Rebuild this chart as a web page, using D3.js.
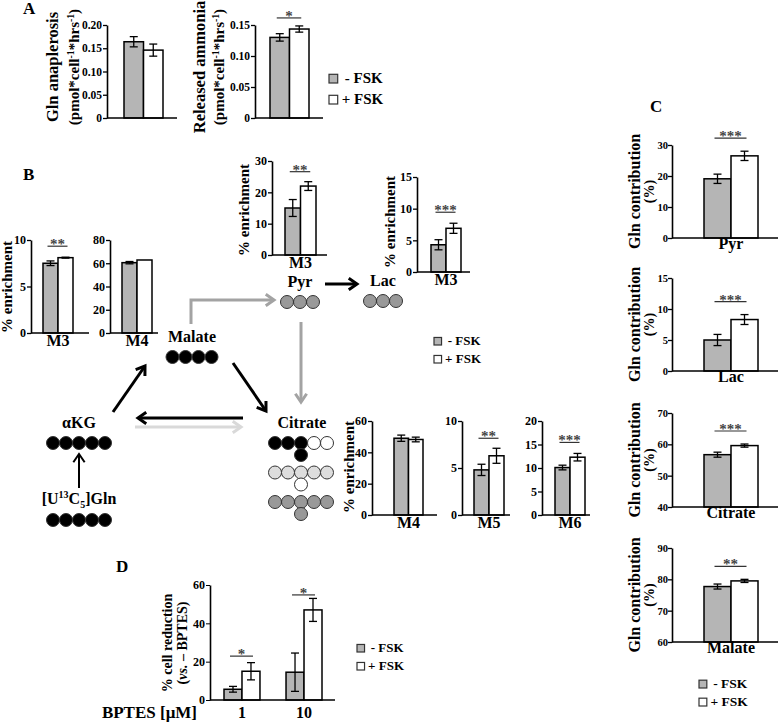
<!DOCTYPE html>
<html>
<head>
<meta charset="utf-8">
<script src="https://cdn.jsdelivr.net/npm/d3@7"></script>
<style>
  body { margin: 0; background: #fff; }
  text { font-family: "Liberation Serif", "Times New Roman", serif; font-weight: bold; fill: #000; }
</style>
</head>
<body>
<div id="fig"></div>
<script>
// conditions
var groups = ["- FSK", "+ FSK"];

// panel A
var anaplerosisMean = [0.164, 0.146], anaplerosisErr = [0.011, 0.013];
var ammoniaMean = [0.130, 0.1435], ammoniaErr = [0.006, 0.005];

// panel B - % enrichment
var malateM3 = [7.5, 8.1], malateM3Err = [0.25, 0.05];
var malateM4 = [60.5, 62.8], malateM4Err = [1.0, 0];
var pyrM3 = [15.0, 22.0], pyrM3Err = [2.7, 1.4];
var lacM3 = [4.3, 6.9], lacM3Err = [0.8, 0.8];
var citM4 = [49.0, 48.2], citM4Err = [2.0, 1.5];
var citM5 = [4.8, 6.3], citM5Err = [0.6, 0.8];
var citM6 = [10.1, 12.3], citM6Err = [0.5, 0.8];

// panel C - Gln contribution (%)
var glnTargets = ["Pyr", "Lac", "Citrate", "Malate"];
var glnMean = [[19.1, 26.5], [5.0, 8.3], [56.7, 59.6], [77.7, 79.5]];
var glnErr = [[1.5, 1.5], [0.9, 0.8], [0.8, 0.5], [0.8, 0.5]];
var glnSig = ["***", "***", "***", "**"];

// panel D - % cell reduction
var bptesDoses = ["1", "10"];
var bptesMinus = [5.6, 14.5], bptesMinusErr = [1.5, 10];
var bptesPlus = [15.0, 47.0], bptesPlusErr = [4.5, 6];

var GRAY = "#b5b5b5";
var fills = [GRAY, "#fff"];

var svg = d3.select("#fig").append("svg")
    .attr("width", 779)
    .attr("height", 724);

function rotLabel(x, y, size, parts) {
  var t = svg.append("text")
      .attr("transform", "translate(" + x + "," + y + ") rotate(-90)")
      .attr("text-anchor", "middle")
      .attr("font-size", size);
  parts.forEach(function(p) {
    var s = t.append("tspan").text(p.t);
    if (p.sup) s.attr("font-size", size * 0.65).attr("dy", -size * 0.35);
    if (p.back) s.attr("dy", size * 0.35);
    if (p.it) s.attr("font-style", "italic");
  });
}

function barChart(c) {
  var y = d3.scaleLinear().domain(c.domain).range([c.yBase, c.yTop]);
  var x = d3.scaleBand().domain(groups).range([c.x0, c.x0 + 2 * c.bw]);
  var g = svg.append("g");

  var axis = g.append("g")
      .attr("transform", "translate(" + c.ax + ",0)")
      .call(d3.axisLeft(y).tickValues(c.ticks).tickFormat(c.fmt || d3.format("d"))
        .tickSize(4).tickSizeOuter(0));
  axis.attr("font-size", c.tickSize || 12).attr("font-family", null);
  axis.select(".domain").attr("stroke-width", 1.6);
  axis.selectAll(".tick line").attr("stroke-width", 1.3);
  axis.selectAll(".tick text").attr("x", c.tickDx || -5);

  g.selectAll("rect.bar")
    .data(c.values)
    .enter().append("rect")
      .attr("class", "bar")
      .attr("x", function(d, i) { return x(groups[i]); })
      .attr("width", x.bandwidth())
      .attr("y", function(d) { return y(d); })
      .attr("height", function(d) { return c.yBase - y(d); })
      .attr("fill", function(d, i) { return fills[i]; })
      .attr("stroke", "#000")
      .attr("stroke-width", 1.5);

  // error bars
  c.values.forEach(function(v, i) {
    var e = c.errs[i];
    if (!e) return;
    var cx = x(groups[i]) + x.bandwidth() / 2;
    g.append("line").attr("x1", cx).attr("x2", cx)
      .attr("y1", y(v - e)).attr("y2", y(v + e))
      .attr("stroke", "#000").attr("stroke-width", 1.3);
    [v - e, v + e].forEach(function(w) {
      g.append("line").attr("x1", cx - 4).attr("x2", cx + 4)
        .attr("y1", y(w)).attr("y2", y(w))
        .attr("stroke", "#000").attr("stroke-width", 1.3);
    });
  });

  g.append("line")
      .attr("x1", c.ax).attr("x2", c.end)
      .attr("y1", c.yBase).attr("y2", c.yBase)
      .attr("stroke", "#000").attr("stroke-width", 1.6);

  if (c.sig) {
    var top = d3.min(c.values.map(function(v, i) { return y(v + c.errs[i]); }));
    var ly = top - (c.gap || 11);
    var xa = x(groups[0]) + x.bandwidth() / 2 - 3,
        xb = x(groups[1]) + x.bandwidth() / 2 + 2;
    g.append("line").attr("x1", xa).attr("x2", xb).attr("y1", ly).attr("y2", ly)
      .attr("stroke", "#333").attr("stroke-width", 1.2);
    g.append("text").attr("x", (xa + xb) / 2).attr("y", ly + 3)
      .attr("text-anchor", "middle").attr("font-size", 15)
      .style("fill", "#444").text(c.sig);
  }

  if (c.cat) {
    g.append("text")
      .attr("x", c.x0 + c.bw)
      .attr("y", c.yBase + (c.catDy || 13))
      .attr("text-anchor", "middle")
      .attr("font-size", c.catSize || 16)
      .text(c.cat);
  }
}

function legend(x, yb, size, gap) {
  groups.forEach(function(name, i) {
    var by = yb + i * gap;
    svg.append("rect").attr("x", x).attr("y", by - size * 0.58)
      .attr("width", size * 0.58).attr("height", size * 0.58)
      .attr("fill", fills[i]).attr("stroke", "#333").attr("stroke-width", 1.2);
    svg.append("text").attr("x", x + size * (i ? 0.85 : 1.05)).attr("y", by)
      .attr("font-size", size).text(name);
  });
}

function panelLetter(l, x, y) {
  svg.append("text").attr("x", x).attr("y", y).attr("font-size", 17).text(l);
}

// ---------- Panel A ----------
panelLetter("A", 23, 14);
var f2 = function(d) { return d === 0 ? "0" : d3.format(".2f")(d); };
barChart({ values: anaplerosisMean, errs: anaplerosisErr, domain: [0, 0.2],
  ticks: [0, 0.05, 0.1, 0.15, 0.2], fmt: f2, tickSize: 11.5,
  ax: 107, yBase: 118, yTop: 25, x0: 124, bw: 19.5, end: 177 });
rotLabel(58, 67, 16.5, [{t: "Gln anaplerosis"}]);
rotLabel(79, 67, 15, [{t: "(pmol*cell"}, {t: "-1", sup: 1}, {t: "*hrs", back: 1}, {t: "-1", sup: 1}, {t: ")", back: 1}]);

barChart({ values: ammoniaMean, errs: ammoniaErr, domain: [0, 0.15],
  ticks: [0, 0.05, 0.1, 0.15], fmt: f2, sig: "*", gap: 8, tickSize: 11.5,
  ax: 255, yBase: 118, yTop: 25, x0: 270, bw: 19.5, end: 323 });
rotLabel(205, 67, 16.5, [{t: "Released ammonia"}]);
rotLabel(224, 67, 15, [{t: "(pmol*cell"}, {t: "-1", sup: 1}, {t: "*hrs", back: 1}, {t: "-1", sup: 1}, {t: ")", back: 1}]);
legend(329, 83, 15, 21);

// ---------- Panel B ----------
panelLetter("B", 23, 180);
barChart({ values: malateM3, errs: malateM3Err, domain: [0, 10], ticks: [0, 5, 10],
  sig: "**", gap: 11, cat: "M3",
  ax: 31, yBase: 333, yTop: 240, x0: 43, bw: 15, end: 89 });
rotLabel(12, 287, 15, [{t: "% enrichment"}]);
barChart({ values: malateM4, errs: malateM4Err, domain: [0, 80], ticks: [0, 20, 40, 60, 80],
  cat: "M4", ax: 110, yBase: 333, yTop: 240, x0: 122, bw: 15, end: 158 });

barChart({ values: pyrM3, errs: pyrM3Err, domain: [0, 30], ticks: [0, 10, 20, 30],
  sig: "**", gap: 10, cat: "M3",
  ax: 272, yBase: 255, yTop: 161, x0: 285, bw: 15.5, end: 327 });
rotLabel(249, 210, 15, [{t: "% enrichment"}]);

barChart({ values: lacM3, errs: lacM3Err, domain: [0, 15], ticks: [0, 5, 10, 15],
  sig: "***", gap: 11, cat: "M3",
  ax: 417, yBase: 272, yTop: 177, x0: 431, bw: 15, end: 470 });
rotLabel(395, 222, 15, [{t: "% enrichment"}]);

barChart({ values: citM4, errs: citM4Err, domain: [0, 60], ticks: [0, 20, 40, 60],
  cat: "M4", ax: 372, yBase: 515, yTop: 421, x0: 394, bw: 14.5, end: 437 });
rotLabel(354, 467, 15, [{t: "% enrichment"}]);
barChart({ values: citM5, errs: citM5Err, domain: [0, 10], ticks: [0, 5, 10],
  sig: "**", gap: 10, cat: "M5",
  ax: 462, yBase: 515, yTop: 421, x0: 474, bw: 15, end: 510 });
barChart({ values: citM6, errs: citM6Err, domain: [0, 20], ticks: [0, 5, 10, 15, 20],
  sig: "***", gap: 11, cat: "M6",
  ax: 542, yBase: 515, yTop: 421, x0: 555, bw: 15, end: 590 });

legend(434, 345, 13, 18);

// metabolic scheme
var nodes = [
  { name: "Malate", x: 192, y: 342, atoms: [["#000", "#000", "#000", "#000"]] },
  { name: "Pyr", x: 300, y: 287, atoms: [["#999", "#999", "#999"]] },
  { name: "Lac", x: 383, y: 286, atoms: [["#999", "#999", "#999"]] },
  { name: "\u03b1KG", x: 79, y: 428, atoms: [["#000", "#000", "#000", "#000", "#000"]] },
  { name: "Citrate", x: 302, y: 428, atoms: [] }
];
var citrateRows = [
  { row: ["#000", "#000", "#000", "#fff", "#fff"], branch: "#000" },
  { row: ["#ddd", "#ddd", "#ddd", "#ddd", "#ddd"], branch: "#fff" },
  { row: ["#999", "#999", "#999", "#999", "#999"], branch: "#999" }
];
var R = 6.5, STEP = 13;

function atomRow(cx, cy, cols) {
  cols.forEach(function(c, i) {
    svg.append("circle").attr("cx", cx + (i - (cols.length - 1) / 2) * STEP).attr("cy", cy)
      .attr("r", R).attr("fill", c).attr("stroke", "#333").attr("stroke-width", 1);
  });
}

nodes.forEach(function(n) {
  svg.append("text").attr("x", n.x).attr("y", n.y).attr("text-anchor", "middle")
    .attr("font-size", 16).text(n.name);
  n.atoms.forEach(function(r) { atomRow(n.x, n.y + 15, r); });
});
citrateRows.forEach(function(r, i) {
  var cy = 443 + i * 29.5;
  atomRow(301, cy, r.row);
  svg.append("circle").attr("cx", 301).attr("cy", cy + 12).attr("r", R)
    .attr("fill", r.branch).attr("stroke", "#333").attr("stroke-width", 1);
});

// [U13C5]Gln
var gl = svg.append("text").attr("x", 79).attr("y", 504).attr("text-anchor", "middle").attr("font-size", 16);
gl.append("tspan").text("[U");
gl.append("tspan").attr("font-size", 10).attr("dy", -6).text("13");
gl.append("tspan").attr("dy", 6).text("C");
gl.append("tspan").attr("font-size", 10).attr("dy", 4).text("5");
gl.append("tspan").attr("dy", -4).text("]Gln");
atomRow(79, 520, ["#000", "#000", "#000", "#000", "#000"]);

function arrow(pts, color, w, head) {
  var line = d3.line();
  svg.append("path").attr("d", line(pts)).attr("fill", "none")
    .attr("stroke", color).attr("stroke-width", w);
  var a = pts[pts.length - 1], b = pts[pts.length - 2];
  var ang = Math.atan2(a[1] - b[1], a[0] - b[0]);
  var L = head || 10, spread = 0.6;
  var p1 = [a[0] - L * Math.cos(ang - spread), a[1] - L * Math.sin(ang - spread)];
  var p2 = [a[0] - L * Math.cos(ang + spread), a[1] - L * Math.sin(ang + spread)];
  svg.append("path").attr("d", line([p1, a, p2])).attr("fill", "none")
    .attr("stroke", color).attr("stroke-width", w).attr("stroke-linejoin", "miter");
}
arrow([[191, 324], [191, 300], [274, 300]], "#a3a3a3", 3);
arrow([[301, 322], [301, 402]], "#a3a3a3", 3);
arrow([[325, 284], [357, 284]], "#000", 3);
arrow([[113, 412], [145, 366]], "#000", 3);
arrow([[233, 363], [266, 411]], "#000", 3);
arrow([[243, 418], [138, 418]], "#000", 3);
arrow([[135, 427], [241, 427]], "#d9d9d9", 3);
arrow([[79, 488], [79, 454]], "#000", 2);

// ---------- Panel C ----------
panelLetter("C", 650, 112);
var cLayout = [
  { domain: [0, 30], ticks: [0, 10, 20, 30], yBase: 238, yTop: 145 },
  { domain: [0, 15], ticks: [0, 5, 10, 15], yBase: 371, yTop: 278 },
  { domain: [40, 70], ticks: [40, 50, 60, 70], yBase: 507, yTop: 413 },
  { domain: [60, 90], ticks: [60, 70, 80, 90], yBase: 642, yTop: 548 }
];
glnTargets.forEach(function(t, i) {
  var l = cLayout[i];
  barChart({ values: glnMean[i], errs: glnErr[i], domain: l.domain, ticks: l.ticks,
    sig: glnSig[i], gap: 13, cat: t, catDy: 11, catSize: 16, tickSize: 10.5, tickDx: -4,
    ax: 672, yBase: l.yBase, yTop: l.yTop, x0: 704, bw: 27, end: 778 });
  rotLabel(640, (l.yBase + l.yTop) / 2, 16, [{t: "Gln contribution"}]);
  rotLabel(654, (l.yBase + l.yTop) / 2, 14, [{t: "(%)"}]);
});
legend(699, 688, 13.5, 18);

// ---------- Panel D ----------
panelLetter("D", 116, 572);
var yD = d3.scaleLinear().domain([0, 60]).range([700, 585]);
var xD = d3.scaleBand().domain(bptesDoses).range([224, 322]).paddingInner(0.42);
var xG = d3.scaleBand().domain(groups).range([0, xD.bandwidth()]);
var gD = svg.append("g");
var axD = gD.append("g").attr("transform", "translate(210,0)")
    .call(d3.axisLeft(yD).tickValues([0, 20, 40, 60]).tickSize(4).tickSizeOuter(0));
axD.attr("font-size", 12).attr("font-family", null);
axD.select(".domain").attr("stroke-width", 1.6);
axD.selectAll(".tick text").attr("x", -5);

var dSeries = [
  { mean: bptesMinus, err: bptesMinusErr },
  { mean: bptesPlus, err: bptesPlusErr }
];
dSeries.forEach(function(s, k) {
  bptesDoses.forEach(function(dose, j) {
    var bx = xD(dose) + xG(groups[k]), v = s.mean[j], e = s.err[j];
    gD.append("rect").attr("x", bx).attr("width", xG.bandwidth())
      .attr("y", yD(v)).attr("height", yD(0) - yD(v))
      .attr("fill", fills[k]).attr("stroke", "#000").attr("stroke-width", 1.5);
    var cx = bx + xG.bandwidth() / 2;
    gD.append("line").attr("x1", cx).attr("x2", cx).attr("y1", yD(Math.max(0, v - e))).attr("y2", yD(v + e))
      .attr("stroke", "#000").attr("stroke-width", 1.3);
    [Math.max(0, v - e), v + e].forEach(function(w) {
      gD.append("line").attr("x1", cx - 4).attr("x2", cx + 4).attr("y1", yD(w)).attr("y2", yD(w))
        .attr("stroke", "#000").attr("stroke-width", 1.3);
    });
  });
});
gD.append("line").attr("x1", 210).attr("x2", 335).attr("y1", yD(0)).attr("y2", yD(0))
  .attr("stroke", "#000").attr("stroke-width", 1.6);
var dGap = [6.5, 3.5];
bptesDoses.forEach(function(dose, j) {
  var top = Math.min(yD(bptesMinus[j] + bptesMinusErr[j]), yD(bptesPlus[j] + bptesPlusErr[j]));
  var ly = top - dGap[j];
  var xa = xD(dose) + xG.bandwidth() / 2 - 3, xb = xD(dose) + xG.bandwidth() * 1.5 + 2;
  gD.append("line").attr("x1", xa).attr("x2", xb).attr("y1", ly).attr("y2", ly)
    .attr("stroke", "#333").attr("stroke-width", 1.2);
  gD.append("text").attr("x", (xa + xb) / 2).attr("y", ly + 3).attr("text-anchor", "middle")
    .attr("font-size", 15).style("fill", "#444").text("*");
  gD.append("text").attr("x", xD(dose) + xD.bandwidth() / 2).attr("y", 718)
    .attr("text-anchor", "middle").attr("font-size", 16).text(dose);
});
svg.append("text").attr("x", 197).attr("y", 718).attr("text-anchor", "end")
  .attr("font-size", 17).text("BPTES [\u03bcM]");
rotLabel(172, 643, 14, [{t: "% cell reduction"}]);
rotLabel(187, 643, 14, [{t: "("}, {t: "vs.", it: 1}, {t: " \u2013 BPTES)"}]);
legend(357, 652, 13, 18);
</script>
</body>
</html>
